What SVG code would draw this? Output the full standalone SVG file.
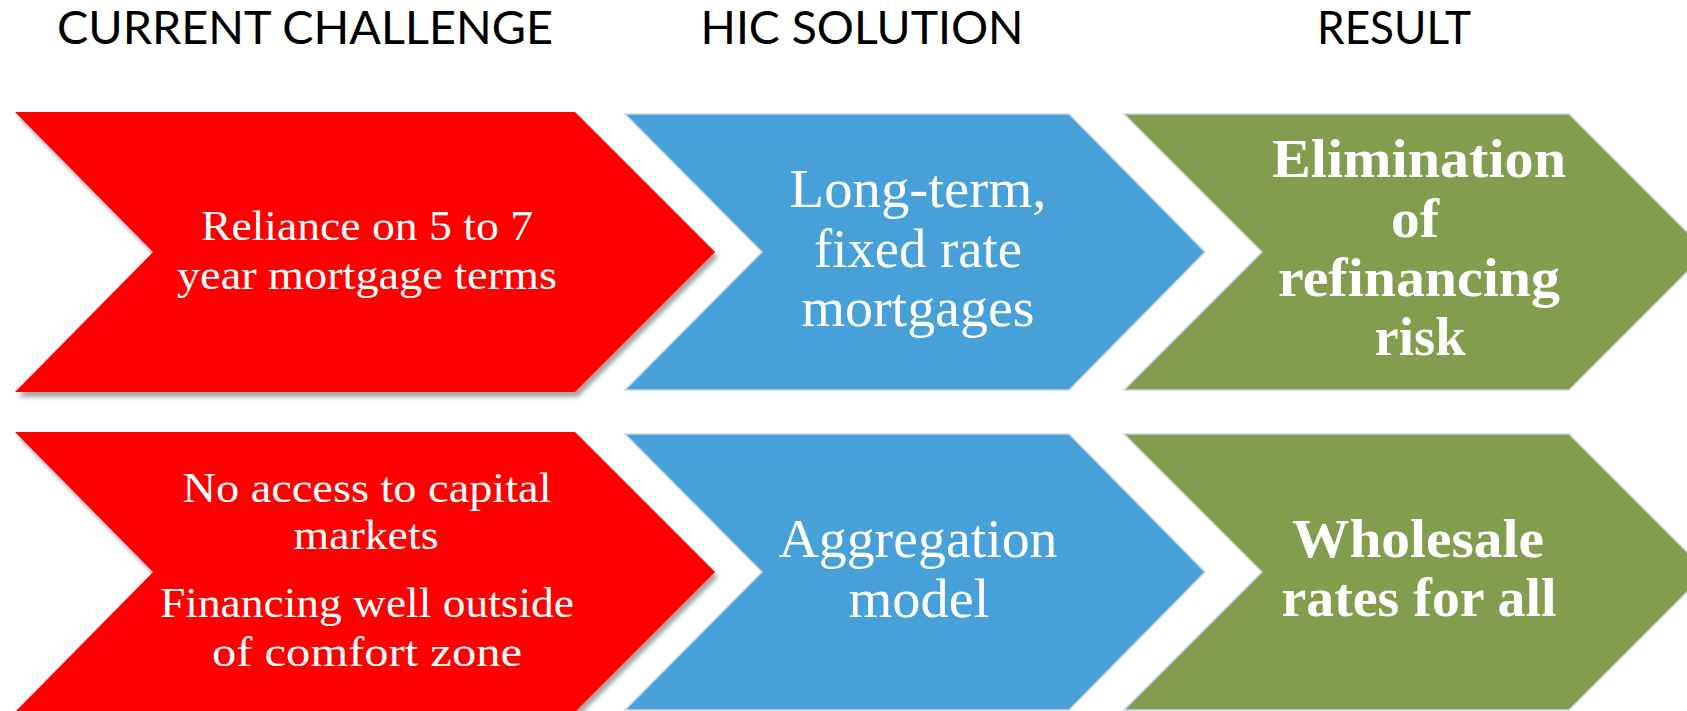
<svg xmlns="http://www.w3.org/2000/svg" width="1687" height="711" viewBox="0 0 1687 711">
<defs>
<filter id="shadow" x="-5%" y="-5%" width="115%" height="120%">
<feDropShadow dx="3" dy="5" stdDeviation="2" flood-color="#000" flood-opacity="0.35"/>
</filter>
<style>
.hdr{font-family:"Lato","Open Sans","Liberation Sans",sans-serif;font-size:47px;fill:#000;text-anchor:middle}
.red{fill:#FF0000;filter:url(#shadow)}
.blue{fill:#47A1D8;stroke:#C9D5E8;stroke-width:1.5}
.green{fill:#839D4F;stroke:#C9D5E8;stroke-width:1.5}
.t{font-family:"Liberation Serif","Times New Roman",serif;fill:#fff;text-anchor:middle}
.tr{font-size:43px}
.tb{font-size:54px}
.tg{font-size:55px;font-weight:bold}
</style>
</defs>
<rect width="1687" height="711" fill="#fff"/>
<g id="headers">
<text class="hdr" x="305" y="44" textLength="496" lengthAdjust="spacingAndGlyphs">CURRENT CHALLENGE</text>
<text class="hdr" x="862" y="44" textLength="323" lengthAdjust="spacingAndGlyphs">HIC SOLUTION</text>
<text class="hdr" x="1394" y="44" textLength="154" lengthAdjust="spacingAndGlyphs">RESULT</text>
</g>
<g id="challenge1">
<polygon class="red" points="15,112 575,112 715,252 575,392 15,392 153,252"/>
<text class="t tr" x="367" y="240" textLength="332" lengthAdjust="spacingAndGlyphs">Reliance on 5 to 7</text>
<text class="t tr" x="367" y="289" textLength="380" lengthAdjust="spacingAndGlyphs">year mortgage terms</text>
</g>
<g id="solution1">
<polygon class="blue" points="625,114 1069,114 1205,252 1069,390 625,390 762,252"/>
<text class="t tb" x="918" y="207" textLength="257" lengthAdjust="spacingAndGlyphs">Long-term,</text>
<text class="t tb" x="918" y="267" textLength="208" lengthAdjust="spacingAndGlyphs">fixed rate</text>
<text class="t tb" x="918" y="326" textLength="233" lengthAdjust="spacingAndGlyphs">mortgages</text>
</g>
<g id="result1">
<polygon class="green" points="1124,114 1569,114 1707,252 1569,390 1124,390 1262,252"/>
<text class="t tg" x="1419" y="177" textLength="294" lengthAdjust="spacingAndGlyphs">Elimination</text>
<text class="t tg" x="1415" y="237" textLength="48" lengthAdjust="spacingAndGlyphs">of</text>
<text class="t tg" x="1419" y="296" textLength="282" lengthAdjust="spacingAndGlyphs">refinancing</text>
<text class="t tg" x="1420" y="355" textLength="91" lengthAdjust="spacingAndGlyphs">risk</text>
</g>
<g id="challenge2">
<polygon class="red" points="15,432 575,432 715,572 575,712 15,712 153,572"/>
<text class="t tr" x="367" y="502" textLength="369" lengthAdjust="spacingAndGlyphs">No access to capital</text>
<text class="t tr" x="366" y="549" textLength="145" lengthAdjust="spacingAndGlyphs">markets</text>
<text class="t tr" x="367" y="617" textLength="414" lengthAdjust="spacingAndGlyphs">Financing well outside</text>
<text class="t tr" x="367" y="666" textLength="310" lengthAdjust="spacingAndGlyphs">of comfort zone</text>
</g>
<g id="solution2">
<polygon class="blue" points="625,434 1069,434 1205,572 1069,710 625,710 762,572"/>
<text class="t tb" x="918" y="557" textLength="279" lengthAdjust="spacingAndGlyphs">Aggregation</text>
<text class="t tb" x="919" y="617" textLength="141" lengthAdjust="spacingAndGlyphs">model</text>
</g>
<g id="result2">
<polygon class="green" points="1124,434 1569,434 1707,572 1569,710 1124,710 1262,572"/>
<text class="t tg" x="1418" y="557" textLength="252" lengthAdjust="spacingAndGlyphs">Wholesale</text>
<text class="t tg" x="1419" y="616" textLength="275" lengthAdjust="spacingAndGlyphs">rates for all</text>
</g>
</svg>
